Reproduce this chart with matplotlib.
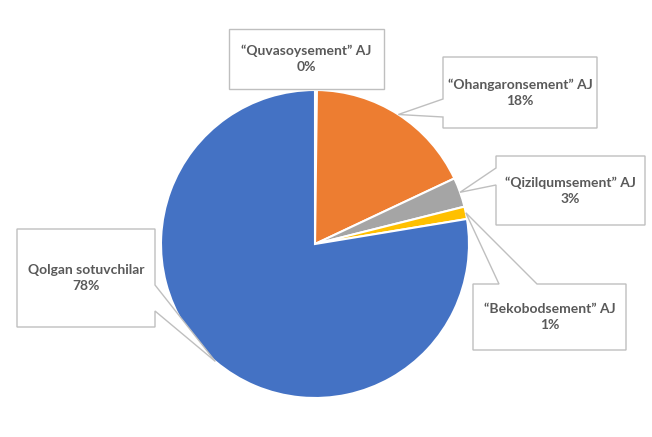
import numpy as np
import matplotlib
matplotlib.use("Agg")
import matplotlib.pyplot as plt
from matplotlib.patches import Polygon

labels = ["\u201cQuvasoysement\u201d AJ", "\u201cOhangaronsement\u201d AJ",
          "\u201cQizilqumsement\u201d AJ", "\u201cBekobodsement\u201d AJ",
          "Qolgan sotuvchilar"]
values = [0.2, 17.8, 3.1, 1.3, 77.6]
colors = ["#4472C4", "#ED7D31", "#A5A5A5", "#FFC000", "#4472C4"]

W, H = 652, 437
fig = plt.figure(figsize=(W / 100, H / 100), dpi=100)
ax = fig.add_axes([0, 0, 1, 1])

cx, cy, R = 315, H - 244, 154
wedges, _ = ax.pie(values, startangle=90, counterclock=False, colors=colors,
                   center=(cx, cy), radius=R,
                   wedgeprops=dict(edgecolor="white", linewidth=1.5))
ax.set_xlim(0, W)
ax.set_ylim(0, H)
ax.set_aspect("equal")
ax.axis("off")

# callout boxes: (x0, y0, x1, y1) in pixel coords (y down), pointer side, base range
boxes = [
    ((229, 29, 384, 89), None, None),
    ((443, 57, 597, 128), "left", (99, 117)),
    ((496, 156, 645, 225), "left", (168, 185)),
    ((473, 284, 626, 350), "top", (499, 537)),
    ((17, 229, 155, 327), "right", (285, 311)),
]

def fy(y):
    return H - y

for w, (box, side, base), lab, v in zip(wedges, boxes, labels, values):
    x0, y0, x1, y1 = box
    mid = np.deg2rad((w.theta1 + w.theta2) / 2)
    tip = (cx + R * np.cos(mid), cy + R * np.sin(mid))
    if side is None:
        pts = [(x0, fy(y0)), (x1, fy(y0)), (x1, fy(y1)), (x0, fy(y1))]
    elif side == "left":
        pts = [(x0, fy(y0)), (x1, fy(y0)), (x1, fy(y1)), (x0, fy(y1)),
               (x0, fy(base[1])), tip, (x0, fy(base[0]))]
    elif side == "right":
        pts = [(x0, fy(y0)), (x1, fy(y0)), (x1, fy(base[0])), tip,
               (x1, fy(base[1])), (x1, fy(y1)), (x0, fy(y1))]
    else:  # top
        pts = [(x0, fy(y0)), (base[0], fy(y0)), tip, (base[1], fy(y0)),
               (x1, fy(y0)), (x1, fy(y1)), (x0, fy(y1))]
    ax.add_patch(Polygon(pts, closed=True, facecolor="white",
                         edgecolor="#BFBFBF", linewidth=1.0, zorder=5))
    ax.text((x0 + x1) / 2, fy((y0 + y1) / 2), f"{lab}\n{round(v):.0f}%",
            ha="center", va="center", fontsize=10, fontweight="bold",
            color="#595959", family="Lato", linespacing=1.4, zorder=6)

fig.savefig("out.png", dpi=100)
